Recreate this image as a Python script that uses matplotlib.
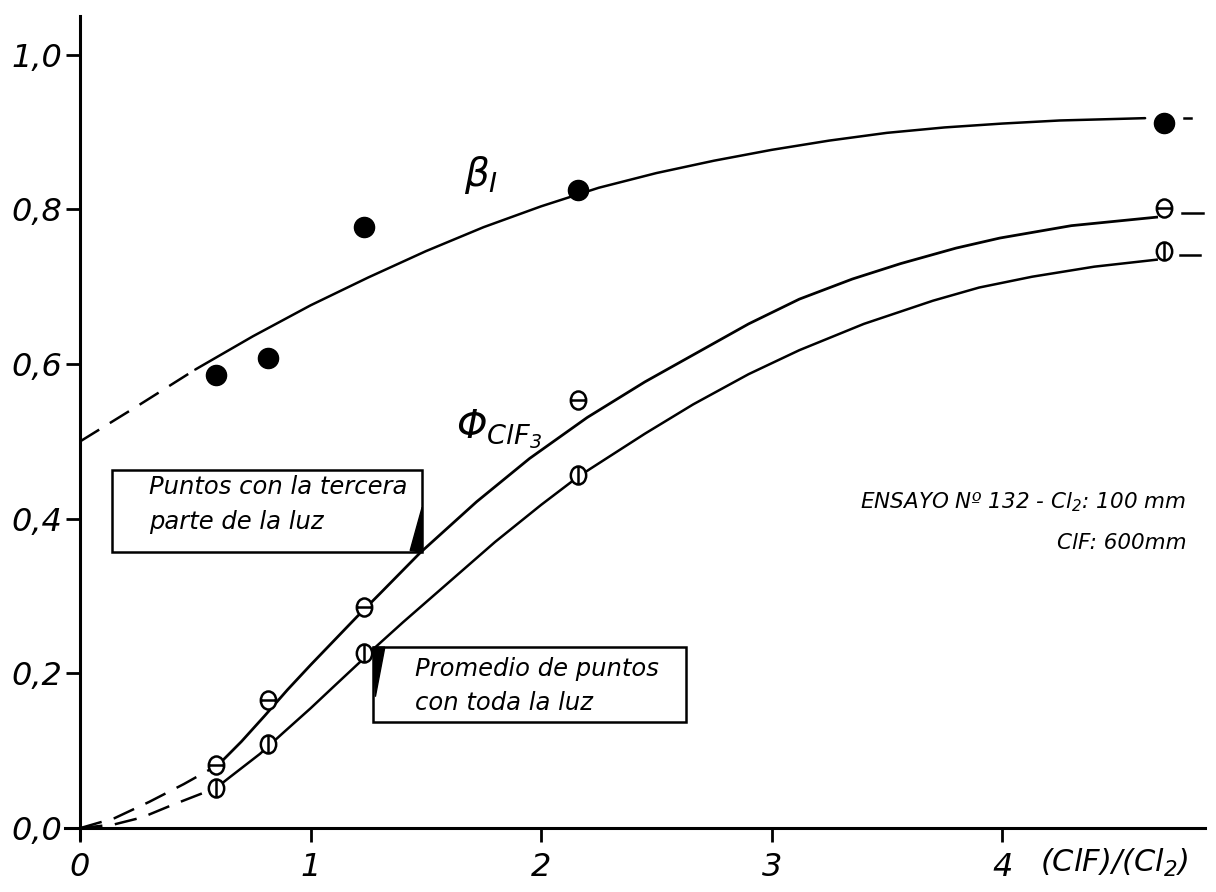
import matplotlib
matplotlib.use("Agg")
import matplotlib.pyplot as plt
from matplotlib.path import Path
from matplotlib.patches import Rectangle, Polygon

plt.rcParams['font.family'] = ['DejaVu Sans']
plt.rcParams['font.style'] = 'italic'
plt.rcParams['mathtext.fontset'] = 'custom'
plt.rcParams['mathtext.it'] = 'DejaVu Sans:italic'
plt.rcParams['mathtext.rm'] = 'DejaVu Sans:italic'
plt.rcParams['mathtext.default'] = 'it'

# ---------------- data ----------------
ratio_pts = [0.59, 0.815, 1.23, 2.16, 4.70]
beta_pts = [0.586, 0.608, 0.777, 0.825, 0.912]          # filled circles
phi_third_pts = [0.082, 0.166, 0.286, 0.554, 0.802]     # circle + horizontal bar
phi_full_pts = [0.052, 0.109, 0.226, 0.457, 0.746]      # circle + vertical bar

# fitted curves
beta_dash_x = [0.0, 0.25, 0.50]
beta_dash_y = [0.500, 0.546, 0.593]
beta_x = [0.50, 0.75, 1.00, 1.25, 1.50, 1.75, 2.00, 2.25, 2.50, 2.75, 3.00,
          3.25, 3.50, 3.75, 4.00, 4.25, 4.50, 4.62]
beta_y = [0.593, 0.636, 0.676, 0.712, 0.746, 0.777, 0.804, 0.828, 0.847, 0.863,
          0.877, 0.889, 0.899, 0.906, 0.911, 0.915, 0.917, 0.918]

third_dash_x = [0.0, 0.15, 0.30, 0.45, 0.60]
third_dash_y = [0.0, 0.013, 0.034, 0.057, 0.082]
third_x = [0.60, 0.70, 0.80, 0.90, 1.00, 1.10, 1.20, 1.30, 1.475, 1.72, 1.95,
           2.20, 2.45, 2.69, 2.90, 3.12, 3.35, 3.56, 3.80, 3.99, 4.30, 4.67]
third_y = [0.082, 0.112, 0.145, 0.179, 0.211, 0.242, 0.273, 0.303, 0.356, 0.422,
           0.478, 0.531, 0.577, 0.617, 0.652, 0.684, 0.710, 0.730, 0.750, 0.763,
           0.779, 0.790]

full_dash_x = [0.0, 0.15, 0.27, 0.40, 0.59]
full_dash_y = [0.0, 0.005, 0.014, 0.030, 0.052]
full_x = [0.59, 0.65, 0.78, 0.88, 1.00, 1.10, 1.215, 1.27, 1.40, 1.60, 1.80,
          2.00, 2.15, 2.21, 2.45, 2.66, 2.90, 3.12, 3.40, 3.70, 3.90, 4.13,
          4.40, 4.67]
full_y = [0.052, 0.066, 0.096, 0.123, 0.155, 0.183, 0.215, 0.231, 0.266, 0.318,
          0.370, 0.418, 0.452, 0.464, 0.510, 0.548, 0.587, 0.618, 0.652, 0.682,
          0.699, 0.713, 0.726, 0.735]

# short tails beyond the last points
beta_tail_x = [4.79, 4.82]
beta_tail_y = [0.918, 0.918]
third_tail_x = [4.78, 4.87]
third_tail_y = [0.796, 0.796]
full_tail_x = [4.77, 4.86]
full_tail_y = [0.741, 0.741]

xticks = [0, 1, 2, 3, 4]
xtick_labels = ["0", "1", "2", "3", "4"]
yticks = [0.0, 0.2, 0.4, 0.6, 0.8, 1.0]
ytick_labels = ["0,0", "0,2", "0,4", "0,6", "0,8", "1,0"]

# ---------------- figure ----------------
fig = plt.figure(figsize=(12.16, 8.92), dpi=100)
ax = fig.add_axes([0.0535, 0.0594, 0.9375, 0.9226])
ax.set_xlim(-0.065, 4.88)
ax.set_ylim(-0.014, 1.05)

for s in ['top', 'right']:
    ax.spines[s].set_visible(False)
ax.spines['left'].set_position(('data', 0))
ax.spines['bottom'].set_position(('data', 0))
for s in ['left', 'bottom']:
    ax.spines[s].set_linewidth(2.2)

ax.set_xticks(xticks)
ax.set_xticklabels(xtick_labels, fontsize=23, style='italic')
ax.set_yticks(yticks)
ax.set_yticklabels(ytick_labels, fontsize=23, style='italic')
ax.tick_params(axis='both', direction='out', length=10, width=2.0)
ax.tick_params(axis='x', pad=7)
ax.tick_params(axis='y', pad=3)

lw = 1.8
dash = (0, (9, 5))
ax.plot(beta_dash_x, beta_dash_y, color='black', lw=lw, linestyle=dash)
ax.plot(beta_x, beta_y, color='black', lw=lw, solid_capstyle='round')
ax.plot(third_dash_x, third_dash_y, color='black', lw=lw, linestyle=dash)
ax.plot(third_x, third_y, color='black', lw=lw * 1.1)
ax.plot(full_dash_x, full_dash_y, color='black', lw=lw, linestyle=dash)
ax.plot(full_x, full_y, color='black', lw=lw)
for tx, ty in [(beta_tail_x, beta_tail_y), (third_tail_x, third_tail_y),
               (full_tail_x, full_tail_y)]:
    ax.plot(tx, ty, color='black', lw=lw, clip_on=False)

# markers
circ = Path.unit_circle()
ell = Path(circ.vertices * [0.85, 1.0], circ.codes)
hbar = Path([(-0.85, 0), (0.85, 0)], [Path.MOVETO, Path.LINETO])
vbar = Path([(0, -1), (0, 1)], [Path.MOVETO, Path.LINETO])
m_h = Path.make_compound_path(ell, hbar)
m_v = Path.make_compound_path(ell, vbar)

ax.plot(ratio_pts, beta_pts, linestyle='none', marker='o', markersize=14.5,
        color='black', zorder=5, clip_on=False)
ax.plot(ratio_pts, phi_third_pts, linestyle='none', marker=m_h, markersize=13,
        markerfacecolor='white', markeredgecolor='black', markeredgewidth=1.8,
        zorder=5, clip_on=False)
ax.plot(ratio_pts, phi_full_pts, linestyle='none', marker=m_v, markersize=13,
        markerfacecolor='white', markeredgecolor='black', markeredgewidth=1.8,
        zorder=5, clip_on=False)

# curve labels
ax.text(1.665, 0.845, r"$\beta_I$", fontsize=28, ha='left', va='center')
ax.text(1.63, 0.515, r"$\Phi_{ClF_3}$", fontsize=28, ha='left', va='center')

# annotation boxes
box1 = Rectangle((0.139, 0.357), 1.345, 0.106, fill=False, edgecolor='black',
                 lw=1.8, zorder=3)
ax.add_patch(box1)
ax.add_patch(Polygon([(1.432, 0.359), (1.484, 0.357), (1.484, 0.415)],
                     closed=True, color='black', zorder=3))
ax.text(0.30, 0.441, "Puntos con la tercera", fontsize=17.5, ha='left', va='center')
ax.text(0.30, 0.396, "parte de la luz", fontsize=17.5, ha='left', va='center')

box2 = Rectangle((1.271, 0.137), 1.358, 0.097, fill=False, edgecolor='black',
                 lw=1.8, zorder=3)
ax.add_patch(box2)
ax.add_patch(Polygon([(1.271, 0.234), (1.322, 0.234), (1.281, 0.170)],
                     closed=True, color='black', zorder=3))
ax.text(1.455, 0.206, "Promedio de puntos", fontsize=17.5, ha='left', va='center')
ax.text(1.455, 0.162, "con toda la luz", fontsize=17.5, ha='left', va='center')

# test info
ax.text(4.80, 0.422, r"ENSAYO Nº 132 - Cl$_2$: 100 mm", fontsize=15.5,
        ha='right', va='center')
ax.text(4.80, 0.369, "ClF: 600mm", fontsize=15.5, ha='right', va='center')

# axis label
ax.text(4.165, -0.045, r"(ClF)/(Cl$_2$)", fontsize=22, ha='left', va='center',
        clip_on=False)

fig.savefig("out.png", dpi=100)
